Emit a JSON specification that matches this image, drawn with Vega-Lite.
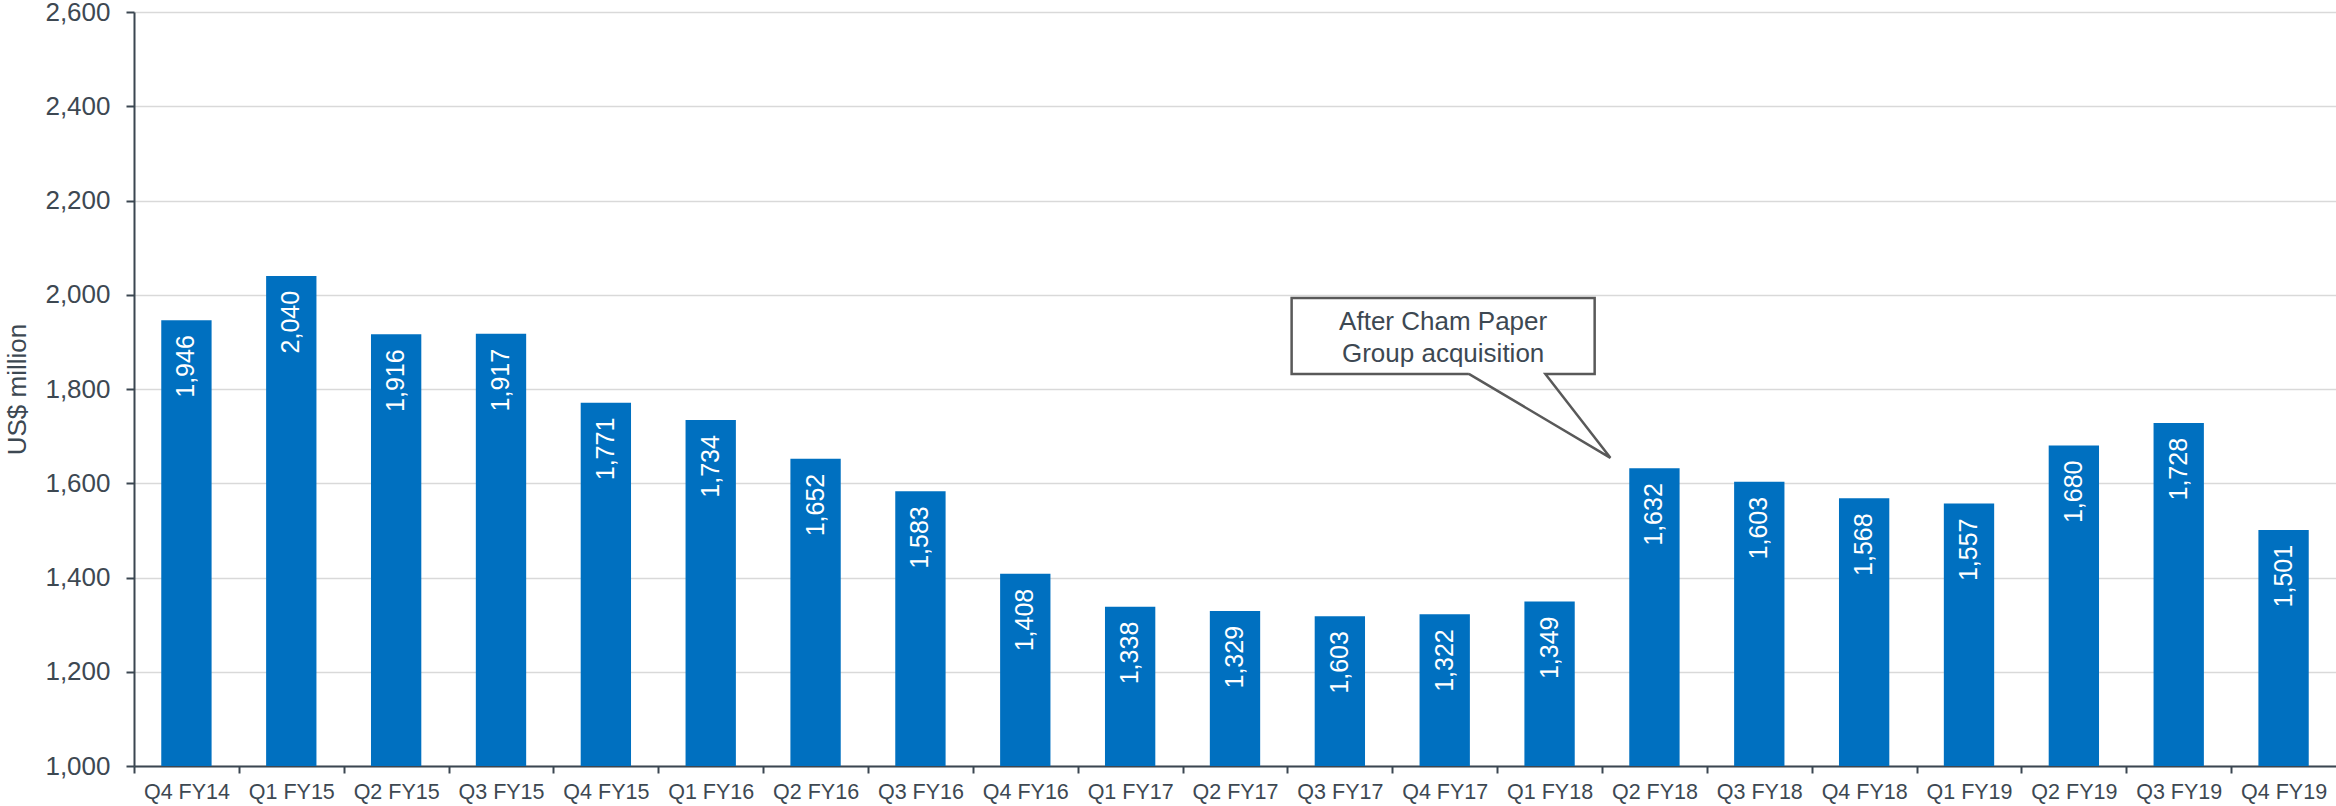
{
  "$schema": "https://vega.github.io/schema/vega-lite/v6.json",
  "autosize": {"type": "none"},
  "padding": {"left": 134, "top": 12, "right": 0, "bottom": 40},
  "width": 2202,
  "height": 754,
  "background": "white",
  "config": {
    "view": {"stroke": null},
    "font": "Liberation Sans",
    "axis": {
      "labelFont": "Liberation Sans",
      "titleFont": "Liberation Sans",
      "labelColor": "#3d4852",
      "titleColor": "#3d4852",
      "domainColor": "#3b4651",
      "tickColor": "#3b4651",
      "domainWidth": 2,
      "tickWidth": 2,
      "titleFontWeight": "normal"
    }
  },
  "datasets": {
    "bars": [
      {"q": "Q4 FY14", "value": 1946, "label": "1,946"},
      {"q": "Q1 FY15", "value": 2040, "label": "2,040"},
      {"q": "Q2 FY15", "value": 1916, "label": "1,916"},
      {"q": "Q3 FY15", "value": 1917, "label": "1,917"},
      {"q": "Q4 FY15", "value": 1771, "label": "1,771"},
      {"q": "Q1 FY16", "value": 1734, "label": "1,734"},
      {"q": "Q2 FY16", "value": 1652, "label": "1,652"},
      {"q": "Q3 FY16", "value": 1583, "label": "1,583"},
      {"q": "Q4 FY16", "value": 1408, "label": "1,408"},
      {"q": "Q1 FY17", "value": 1338, "label": "1,338"},
      {"q": "Q2 FY17", "value": 1329, "label": "1,329"},
      {"q": "Q3 FY17", "value": 1318, "label": "1,603"},
      {"q": "Q4 FY17", "value": 1322, "label": "1,322"},
      {"q": "Q1 FY18", "value": 1349, "label": "1,349"},
      {"q": "Q2 FY18", "value": 1632, "label": "1,632"},
      {"q": "Q3 FY18", "value": 1603, "label": "1,603"},
      {"q": "Q4 FY18", "value": 1568, "label": "1,568"},
      {"q": "Q1 FY19", "value": 1557, "label": "1,557"},
      {"q": "Q2 FY19", "value": 1680, "label": "1,680"},
      {"q": "Q3 FY19", "value": 1728, "label": "1,728"},
      {"q": "Q4 FY19", "value": 1501, "label": "1,501"}
    ],
    "callout": [
      {"o": 0, "u": 12.73, "v": 1832},
      {"o": 1, "u": 11.04, "v": 1832},
      {"o": 2, "u": 11.04, "v": 1993},
      {"o": 3, "u": 13.93, "v": 1993},
      {"o": 4, "u": 13.93, "v": 1832},
      {"o": 5, "u": 13.46, "v": 1832},
      {"o": 6, "u": 14.08, "v": 1654},
      {"o": 7, "u": 12.73, "v": 1832}
    ],
    "calloutText": [
      {"u": 12.485, "v": 1925, "t": "After Cham Paper"},
      {"u": 12.485, "v": 1858, "t": "Group acquisition"}
    ]
  },
  "layer": [
    {
      "data": {"name": "bars"},
      "mark": {"type": "bar", "color": "#0070C0"},
      "encoding": {
        "x": {
          "field": "q", "type": "nominal", "sort": null, "title": null,
          "scale": {"paddingInner": 0.52, "paddingOuter": 0.26},
          "axis": {
            "labelAngle": 0, "labelFontSize": 21.5, "labelPadding": 8,
            "tickSize": 7, "tickOffset": -52.43, "labelOffset": 52.43, "grid": false
          }
        },
        "y": {
          "field": "value", "type": "quantitative", "title": "US$ million",
          "scale": {"domain": [1000, 2600], "nice": false, "zero": false},
          "axis": {
            "values": [1000, 1200, 1400, 1600, 1800, 2000, 2200, 2400, 2600],
            "format": ",.0f", "labelFontSize": 26, "labelPadding": 16, "tickSize": 8,
            "grid": true, "gridColor": "#d9d9d9", "gridWidth": 1.5,
            "titleFontSize": 26, "titlePadding": 14
          }
        },
        "y2": {"datum": 1000}
      }
    },
    {
      "data": {"name": "bars"},
      "mark": {"type": "text", "angle": 270, "align": "right", "baseline": "middle", "dx": -15, "fontSize": 25, "color": "white", "font": "Liberation Sans"},
      "encoding": {
        "x": {"field": "q", "type": "nominal", "sort": null, "axis": null, "scale": {"paddingInner": 0.52, "paddingOuter": 0.26}},
        "y": {"field": "value", "type": "quantitative", "title": "US$ million", "scale": {"domain": [1000, 2600], "nice": false, "zero": false}},
        "text": {"field": "label"}
      }
    },
    {
      "data": {"name": "callout"},
      "mark": {"type": "line", "color": "#595959", "strokeWidth": 2.5, "strokeJoin": "miter"},
      "encoding": {
        "x": {"field": "u", "type": "quantitative", "axis": null, "scale": {"domain": [0, 21], "nice": false, "zero": false}},
        "y": {"field": "v", "type": "quantitative", "title": "US$ million", "scale": {"domain": [1000, 2600], "nice": false, "zero": false}},
        "order": {"field": "o"}
      }
    },
    {
      "data": {"name": "calloutText"},
      "mark": {"type": "text", "align": "center", "baseline": "alphabetic", "fontSize": 26, "color": "#3d4852", "font": "Liberation Sans"},
      "encoding": {
        "x": {"field": "u", "type": "quantitative", "axis": null, "scale": {"domain": [0, 21], "nice": false, "zero": false}},
        "y": {"field": "v", "type": "quantitative", "title": "US$ million", "scale": {"domain": [1000, 2600], "nice": false, "zero": false}},
        "text": {"field": "t"}
      }
    }
  ],
  "resolve": {"scale": {"x": "independent"}}
}
